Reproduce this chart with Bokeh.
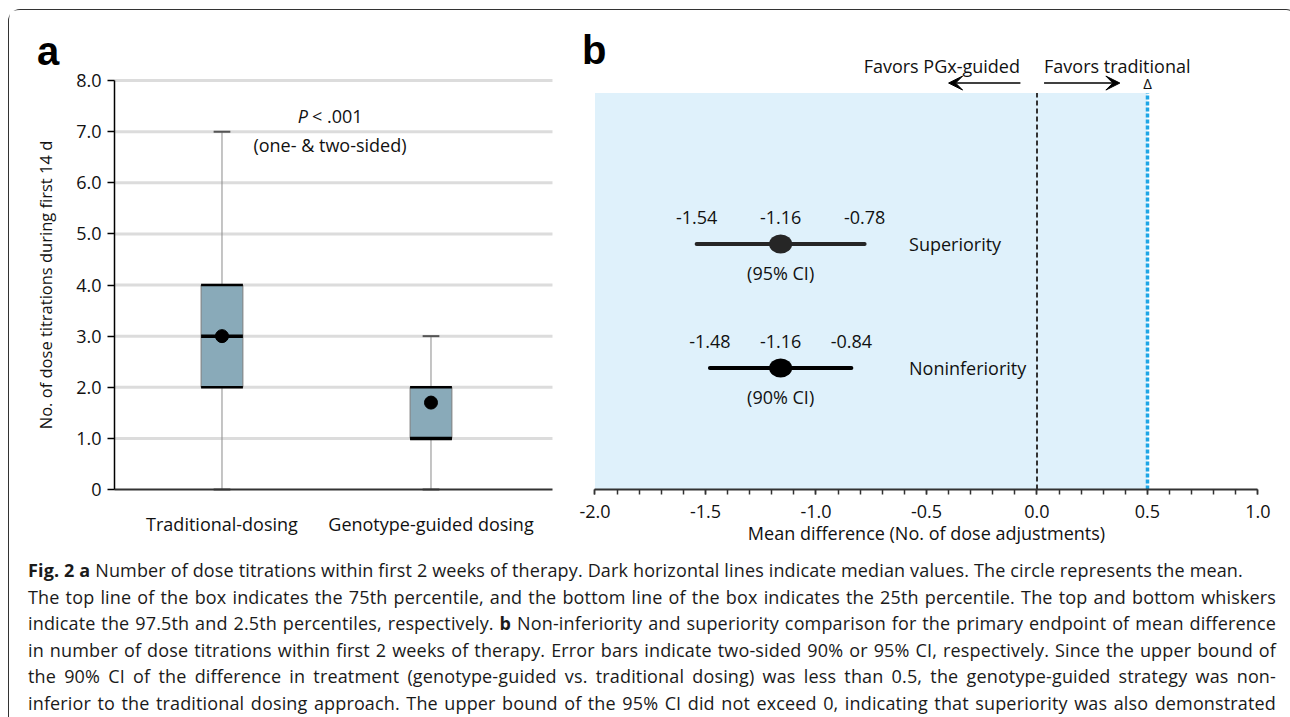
import math
from bokeh.plotting import figure
from bokeh.models import (Range1d, LinearAxis, FixedTicker, BoxAnnotation, Arrow,
                          VeeHead, Div, ColumnDataSource)
from bokeh.layouts import column
from bokeh.transform import dodge
from bokeh.embed import file_html
from bokeh.resources import INLINE
from bokeh.core.properties import value

# ---------------- data: panel a ----------------
groups = ["Traditional-dosing", "Genotype-guided dosing"]
group_pos = [1, 2]
whisker_low = [0.0, 0.0]
q1 = [2.0, 1.0]
median = [3.0, 1.0]
q3 = [4.0, 2.0]
whisker_high = [7.0, 3.0]
means = [3.0, 1.7]
y_ticks_a = [0, 1, 2, 3, 4, 5, 6, 7, 8]
y_tick_labels_a = ["0", "1.0", "2.0", "3.0", "4.0", "5.0", "6.0", "7.0", "8.0"]
y_title_a = "No. of dose titrations during first 14 d"

# ---------------- data: panel b ----------------
analyses = ["Superiority", "Noninferiority"]
ci_names = ["(95% CI)", "(90% CI)"]
row_pos = [2, 1]
mean_diff = [-1.16, -1.16]
ci_low = [-1.54, -1.48]
ci_high = [-0.78, -0.84]
mean_txt = ["-1.16", "-1.16"]
low_txt = ["-1.54", "-1.48"]
high_txt = ["-0.78", "-0.84"]
null_value = 0.0
margin_delta = 0.5
x_ticks_b = [-2.0, -1.5, -1.0, -0.5, 0.0, 0.5, 1.0]
x_tick_labels_b = ["-2.0", "-1.5", "-1.0", "-0.5", "0.0", "0.5", "1.0"]
x_minor_b = [round(-2.0 + 0.1 * i, 1) for i in range(31)]
x_title_b = "Mean difference (No. of dose adjustments)"

caption_lines = [
    "<b>Fig. 2 a</b> Number of dose titrations within first 2 weeks of therapy. Dark horizontal lines indicate median values. The circle represents the mean.",
    "The top line of the box indicates the 75th percentile, and the bottom line of the box indicates the 25th percentile. The top and bottom whiskers",
    "indicate the 97.5th and 2.5th percentiles, respectively. <b>b</b> Non-inferiority and superiority comparison for the primary endpoint of mean difference",
    "in number of dose titrations within first 2 weeks of therapy. Error bars indicate two-sided 90% or 95% CI, respectively. Since the upper bound of",
    "the 90% CI of the difference in treatment (genotype-guided vs. traditional dosing) was less than 0.5, the genotype-guided strategy was non-",
    "inferior to the traditional dosing approach. The upper bound of the 95% CI did not exceed 0, indicating that superiority was also demonstrated",
]

FONT = "Open Sans"
BOLD = "Liberation Sans"
FS = "18px"
TXT = "#111111"

# ---------------- ranges (one canvas, two coordinate systems) ----------------
XB0, XB1 = -4.6493, 1.1335          # panel b (default ranges)
YB0, YB1 = -0.4556, 3.8831
YB_AX = 0.0202                      # panel b axis level
XA0, XA1 = -0.0167, 6.0981          # panel a (extra ranges "a")
YA0, YA1 = -1.154, 9.3692
XA_AX0, XA_AX1 = 0.4856, 2.5813     # panel a axis extent

p = figure(width=1278, height=538, title=None,
           x_range=Range1d(XB0, XB1), y_range=Range1d(YB0, YB1),
           output_backend="svg", toolbar_location=None, tools="",
           min_border_left=0, min_border_right=0, min_border_top=0, min_border_bottom=0,
           x_axis_type=None, y_axis_type=None)
p.extra_x_ranges = {"a": Range1d(XA0, XA1)}
p.extra_y_ranges = {"a": Range1d(YA0, YA1)}
p.outline_line_color = None
p.background_fill_color = "white"
p.border_fill_color = "white"

# ---- panel b axis ----
xb = LinearAxis(fixed_location=YB_AX, bounds=(x_ticks_b[0], x_ticks_b[-1]),
                ticker=FixedTicker(ticks=x_ticks_b, minor_ticks=x_minor_b),
                major_label_overrides=dict(zip(x_ticks_b, x_tick_labels_b)))
xb.major_label_text_font = FONT
xb.major_label_text_font_size = FS
xb.major_label_text_color = TXT
xb.major_label_standoff = 10
xb.major_tick_in = 0
xb.major_tick_out = 5
xb.minor_tick_in = 0
xb.minor_tick_out = 5
xb.major_tick_line_color = "#333"
xb.minor_tick_line_color = "#333"
xb.major_tick_line_width = 1.5
xb.minor_tick_line_width = 1.5
xb.axis_line_color = "#333"
xb.axis_line_width = 2
p.add_layout(xb, "below")

# ---- panel a axes ----
xa = LinearAxis(x_range_name="a", y_range_name="a", fixed_location=0,
                bounds=(XA_AX0, XA_AX1),
                ticker=FixedTicker(ticks=group_pos, minor_ticks=[]),
                major_label_overrides=dict(zip(group_pos, groups)))
xa.major_label_text_font = FONT
xa.major_label_text_font_size = FS
xa.major_label_text_color = TXT
xa.major_label_standoff = 22
xa.major_tick_in = 0
xa.major_tick_out = 0
xa.major_tick_line_color = None
xa.minor_tick_line_color = None
xa.axis_line_color = "#333"
xa.axis_line_width = 2
p.add_layout(xa, "below")

ya = LinearAxis(x_range_name="a", y_range_name="a", fixed_location=XA_AX0,
                bounds=(y_ticks_a[0], y_ticks_a[-1]),
                ticker=FixedTicker(ticks=y_ticks_a, minor_ticks=[]),
                major_label_overrides=dict(zip(y_ticks_a, y_tick_labels_a)))
ya.major_label_text_font = FONT
ya.major_label_text_font_size = FS
ya.major_label_text_color = TXT
ya.major_label_standoff = 6
ya.major_tick_out = 7
ya.major_tick_in = 0
ya.major_tick_line_color = "black"
ya.major_tick_line_width = 1.5
ya.axis_line_color = "black"
ya.axis_line_width = 1.5
p.add_layout(ya, "left")

# ---- panel a gridlines (from the tick list) ----
grid_src = ColumnDataSource(dict(y=y_ticks_a[1:]))
p.segment(x0=XA_AX0, x1=XA_AX1, y0="y", y1="y", source=grid_src, x_range_name="a",
          y_range_name="a", line_color="#dcdcdc", line_width=3, level="underlay")

# ---- panel a box plots ----
src_a = ColumnDataSource(dict(x=group_pos, lo=whisker_low, q1=q1, med=median, q3=q3,
                              hi=whisker_high, mean=means))
BOX_W = 0.2
CAP_W = 0.08
kw_a = dict(source=src_a, x_range_name="a", y_range_name="a")
p.segment(x0="x", y0="lo", x1="x", y1="q1", line_color="#8a8a8a", line_width=1, **kw_a)
p.segment(x0="x", y0="q3", x1="x", y1="hi", line_color="#8a8a8a", line_width=1, **kw_a)
p.vbar(x="x", width=BOX_W, bottom="q1", top="q3", fill_color="#89aab9",
       line_color="#7d7d7d", line_width=1, **kw_a)
for col, lw in (("q1", 2.5), ("q3", 2.5), ("med", 3.5)):
    p.segment(x0=dodge("x", -BOX_W / 2), x1=dodge("x", BOX_W / 2), y0=col, y1=col,
              line_color="black", line_width=lw, **kw_a)
for col in ("lo", "hi"):
    p.segment(x0=dodge("x", -CAP_W / 2), x1=dodge("x", CAP_W / 2), y0=col, y1=col,
              line_color="#555", line_width=2, **kw_a)
p.scatter(x="x", y="mean", size=13, color="black", **kw_a)

kw_ta = dict(x_range_name="a", y_range_name="a", text_font=value(FONT),
             text_font_size=FS, text_color=TXT, text_baseline="middle")
p.text(x=[1.5167], y=[7.306], text=["P"], text_align="right", x_offset=-22,
       text_font_style="italic", **kw_ta)
p.text(x=[1.5167], y=[7.306], text=["< .001"], text_align="left", x_offset=-18, **kw_ta)
p.text(x=[1.5167], y=[6.738], text=["(one- & two-sided)"], text_align="center", **kw_ta)
p.text(x=[0.1579], y=[4.0], text=[y_title_a], text_align="center", angle=math.pi / 2,
       x_range_name="a", y_range_name="a", text_font=value(FONT), text_font_size="16.5px",
       text_color=TXT, text_baseline="middle")
p.text(x=[0.1148], y=[8.577], text=["a"], x_range_name="a", y_range_name="a",
       text_font=value(BOLD), text_font_size="40px", text_font_style="bold",
       text_color="black", text_align="left", text_baseline="middle")

# ================= panel b =================
SHADE_TOP = 3.218
p.add_layout(BoxAnnotation(left=x_ticks_b[0], right=margin_delta, bottom=YB_AX, top=SHADE_TOP,
                           fill_color="#dff1fb", fill_alpha=1.0, line_color=None,
                           level="underlay"))
p.segment(x0=[null_value], y0=[YB_AX], x1=[null_value], y1=[SHADE_TOP],
          line_color="#333", line_width=2, line_dash="5 3")
p.segment(x0=[margin_delta], y0=[YB_AX], x1=[margin_delta], y1=[SHADE_TOP],
          line_color="#1ea6e6", line_width=3.5, line_dash="4 2")

src_b = ColumnDataSource(dict(y=row_pos, m=mean_diff, lo=ci_low, hi=ci_high, name=analyses,
                              ci=ci_names, mt=mean_txt, lt=low_txt, ht=high_txt,
                              col=["#262626", "black"]))
p.segment(x0="lo", x1="hi", y0="y", y1="y", source=src_b, line_color="col",
          line_width=4, line_cap="round")
p.ellipse(x="m", y="y", width=23, height=19, width_units="screen", height_units="screen",
          source=src_b, fill_color="col", line_color=None)
kw_tb = dict(source=src_b, text_font=value(FONT), text_font_size=FS, text_color=TXT,
             text_baseline="middle")
for xcol, tcol in (("lo", "lt"), ("m", "mt"), ("hi", "ht")):
    p.text(x=xcol, y="y", text=tcol, y_offset=-27, text_align="center", **kw_tb)
p.text(x="m", y="y", text="ci", y_offset=29, text_align="center", **kw_tb)
p.text(x=-0.579, y="y", text="name", text_align="left", **kw_tb)

ARROW_Y = 3.298
TEXT_Y = 3.435
kw_tf = dict(text_font=value(FONT), text_font_size=FS, text_color=TXT, text_baseline="middle")
p.text(x=[-0.077], y=[TEXT_Y], text=["Favors PGx-guided"], text_align="right", **kw_tf)
p.text(x=[0.032], y=[TEXT_Y], text=["Favors traditional"], text_align="left", **kw_tf)
p.text(x=[(x_ticks_b[0] + x_ticks_b[-1]) / 2], y=[-0.3306], text=[x_title_b],
       text_align="center", **kw_tf)
p.add_layout(Arrow(x_start=-0.075, y_start=ARROW_Y, x_end=-0.40, y_end=ARROW_Y,
                   line_width=1.5, line_color="black",
                   end=VeeHead(size=14, fill_color="black", line_color="black")))
p.add_layout(Arrow(x_start=0.032, y_start=ARROW_Y, x_end=0.375, y_end=ARROW_Y,
                   line_width=1.5, line_color="black",
                   end=VeeHead(size=14, fill_color="black", line_color="black")))
p.text(x=[margin_delta], y=[ARROW_Y], text=["Δ"], text_align="center",
       text_font=value(FONT), text_font_size="15px", text_color=TXT, text_baseline="middle")
p.text(x=[-2.0588], y=[3.5685], text=["b"], text_font=value(BOLD), text_font_size="40px",
       text_font_style="bold", text_color="black", text_align="left",
       text_baseline="middle")

# ================= caption =================
line_divs = []
for i, ln in enumerate(caption_lines):
    just = "left" if i == 0 else "justify"
    line_divs.append(
        f'<div style="text-align:{just};text-align-last:{just};white-space:nowrap;">{ln}</div>')
caption_html = (
    f'<div style="box-sizing:content-box;font-family:\'{FONT}\';font-size:18px;'
    f'letter-spacing:0.15px;line-height:26.5px;color:#1a1a1a;'
    f'padding:4px 0 0 14px;width:1248px;">' + "".join(line_divs) + "</div>")
cap = Div(text=caption_html, width=1278, height=168, styles={"overflow": "visible"})

layout = column(p, cap,
                styles={"margin": "9px 0 0 8px", "border": "1.5px solid #333",
                        "border-bottom": "none", "border-radius": "12px 12px 0 0",
                        "background": "white"})

open("out.html", "w").write(file_html(layout, INLINE))
